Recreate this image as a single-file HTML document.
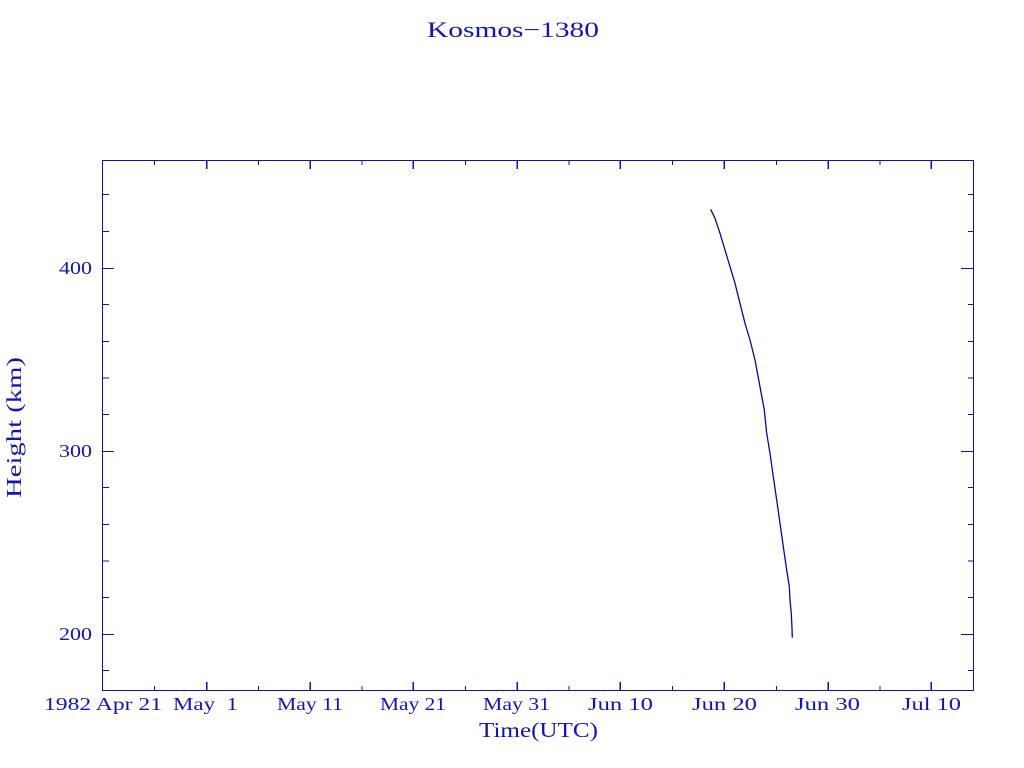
<!DOCTYPE html>
<html>
<head>
<meta charset="utf-8">
<style>
  html, body { margin: 0; padding: 0; background: #ffffff; }
  svg { display: block; }
  text { font-family: "Liberation Serif", "DejaVu Serif", serif; fill: #1414b4; white-space: pre; }
</style>
</head>
<body>
<svg width="1024" height="768" viewBox="0 0 1024 768" xmlns="http://www.w3.org/2000/svg">
  <rect x="0" y="0" width="1024" height="768" fill="#ffffff"/>

  <!-- Title -->
  <text x="427" y="37" font-size="22" textLength="172" lengthAdjust="spacingAndGlyphs">Kosmos−1380</text>

  <!-- Plot frame -->
  <g stroke="#1010a8" stroke-width="1.2" fill="none" shape-rendering="crispEdges">
    <rect x="102.5" y="160.5" width="871" height="530"/>

    <!-- bottom major ticks -->
    <path d="M206.7 690 V682 M310.3 690 V682 M413.3 690 V682 M517.3 690 V682 M620.3 690 V682 M724.3 690 V682 M828.3 690 V682 M931.3 690 V682"/>
    <!-- bottom minor ticks -->
    <path d="M154.5 690 V686 M258.5 690 V686 M362 690 V686 M465.5 690 V686 M569 690 V686 M672.5 690 V686 M776.5 690 V686 M880 690 V686"/>
    <!-- top major ticks -->
    <path d="M206.7 160 V169 M310.3 160 V169 M413.3 160 V169 M517.3 160 V169 M620.3 160 V169 M724.3 160 V169 M828.3 160 V169 M931.3 160 V169"/>
    <!-- top minor ticks -->
    <path d="M154.5 160 V165 M258.5 160 V165 M362 160 V165 M465.5 160 V165 M569 160 V165 M672.5 160 V165 M776.5 160 V165 M880 160 V165"/>

    <!-- left major ticks -->
    <path d="M102 268.5 H114 M102 451.5 H114 M102 634.5 H114"/>
    <!-- left minor ticks -->
    <path d="M102 194.5 H109 M102 231.5 H109 M102 304.5 H109 M102 341.5 H109 M102 378 H109 M102 414.5 H109 M102 487.5 H109 M102 524.5 H109 M102 561 H109 M102 597.5 H109 M102 670.5 H109"/>
    <!-- right major ticks -->
    <path d="M973 268.5 H961 M973 451.5 H961 M973 634.5 H961"/>
    <!-- right minor ticks -->
    <path d="M973 194.5 H968 M973 231.5 H968 M973 304.5 H968 M973 341.5 H968 M973 378 H968 M973 414.5 H968 M973 487.5 H968 M973 524.5 H968 M973 561 H968 M973 597.5 H968 M973 670.5 H968"/>
  </g>

  <!-- Data curve -->
  <polyline fill="none" stroke="#0a0a90" stroke-width="1.3" stroke-linejoin="round"
    points="710.7,209.3 715,218.3 720,233.3 725,250 730,266.7 735,283.3 740,303.3 745,323.3 750,340 755,360 760,386.7 764.3,410 766.7,433.3 770,453.3 773.3,476.7 776.7,500 780,523.3 783.3,546.7 786.7,570 789.3,586.7 790,600 791.3,613.3 792,628.3 792.3,637.7"/>

  <!-- X tick labels -->
  <g font-size="18">
    <text x="44" y="710" textLength="118" lengthAdjust="spacingAndGlyphs">1982 Apr 21</text>
    <text x="173" y="710" textLength="65" lengthAdjust="spacingAndGlyphs">May  1</text>
    <text x="277" y="710" textLength="66" lengthAdjust="spacingAndGlyphs">May 11</text>
    <text x="380" y="710" textLength="66" lengthAdjust="spacingAndGlyphs">May 21</text>
    <text x="483" y="710" textLength="67" lengthAdjust="spacingAndGlyphs">May 31</text>
    <text x="588" y="710" textLength="65" lengthAdjust="spacingAndGlyphs">Jun 10</text>
    <text x="692" y="710" textLength="65" lengthAdjust="spacingAndGlyphs">Jun 20</text>
    <text x="795" y="710" textLength="65" lengthAdjust="spacingAndGlyphs">Jun 30</text>
    <text x="902" y="710" textLength="59" lengthAdjust="spacingAndGlyphs">Jul 10</text>
  </g>

  <!-- Y tick labels -->
  <g font-size="18">
    <text x="59" y="274" textLength="33" lengthAdjust="spacingAndGlyphs">400</text>
    <text x="59" y="457" textLength="33" lengthAdjust="spacingAndGlyphs">300</text>
    <text x="59" y="640" textLength="33" lengthAdjust="spacingAndGlyphs">200</text>
  </g>

  <!-- Axis labels -->
  <text x="479" y="737" font-size="21" textLength="119" lengthAdjust="spacingAndGlyphs">Time(UTC)</text>
  <text transform="translate(21,498) rotate(-90)" x="0" y="0" font-size="21" textLength="141" lengthAdjust="spacingAndGlyphs">Height (km)</text>
</svg>
</body>
</html>
